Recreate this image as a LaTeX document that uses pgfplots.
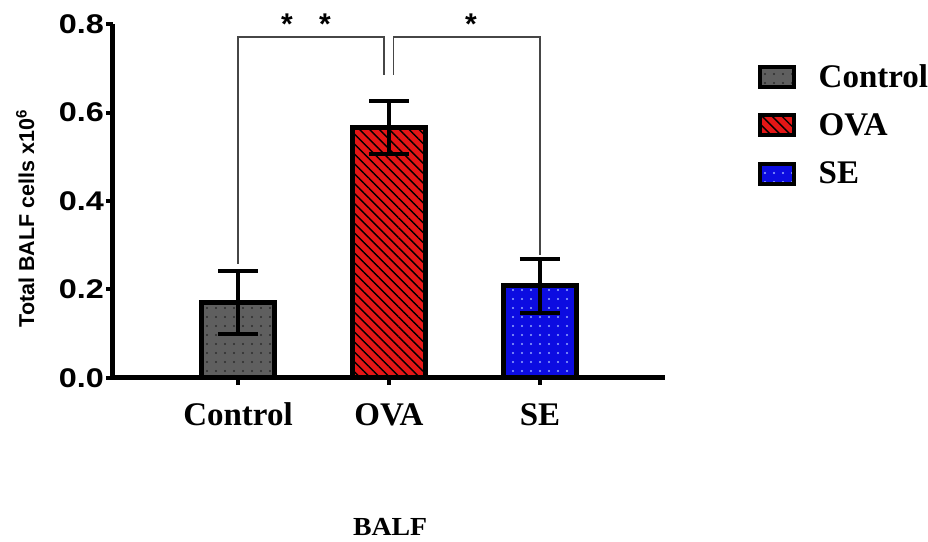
\documentclass[border=0pt]{standalone}
\usepackage{pgfplots}
\pgfplotsset{compat=1.18}
\usepackage{fontspec}
\setmainfont{Liberation Serif}
\newfontfamily\arial{Liberation Sans}
\newfontfamily\arialw[FakeStretch=1.2]{Liberation Sans}
\newfontfamily\timesb[FakeStretch=1.07]{Liberation Serif}
\usetikzlibrary{patterns.meta}

\definecolor{ctrlgray}{RGB}{95,95,95}
\definecolor{ctrldots}{RGB}{45,45,45}
\definecolor{ovared}{RGB}{228,22,22}
\definecolor{seblue}{RGB}{12,12,225}
\definecolor{sedots}{RGB}{150,170,255}
\definecolor{brk}{RGB}{70,70,70}

\begin{document}
\begin{tikzpicture}
\begin{axis}[
  scale only axis,
  width=552pt, height=354pt,
  xmin=-0.828, xmax=2.828,
  ymin=0, ymax=0.8,
  enlargelimits=false,
  clip=false,
  axis x line=bottom, axis y line=left,
  axis line style={line width=5pt, -},
  tick align=outside,
  major tick length=7pt,
  tick style={line width=4pt, black},
  ybar, bar width=73pt, bar shift=0pt,
  xtick={0,1,2},
  xticklabels={Control,OVA,SE},
  xticklabel style={font=\bfseries\fontsize{33}{33}\selectfont, anchor=base, yshift=-41pt},
  ytick={0,0.2,0.4,0.6,0.8},
  yticklabel style={font=\arialw\bfseries\fontsize{27}{27}\selectfont, inner sep=2pt,
    /pgf/number format/.cd, fixed, fixed zerofill, precision=1, assume math mode=true},
  ylabel={Total BALF cells x10\textsuperscript{6}},
  ylabel style={font=\arial\bfseries\fontsize{21.5}{21.5}\selectfont,
    at={(axis description cs:-0.159,0.45)}, anchor=center},
  xlabel={BALF},
  xlabel style={font=\timesb\bfseries\fontsize{26}{26}\selectfont,
    at={(axis description cs:0.502,-0.42)}, anchor=center},
  legend image code/.code={
    \draw[#1, line width=4pt] (0pt,-10pt) rectangle (34pt,10pt);
    \path (54pt,0pt);
  },
  legend style={
    at={(axis description cs:1.163,0.898)}, anchor=north west,
    draw=none, fill=none,
    font=\bfseries\fontsize{33}{33}\selectfont,
    row sep=21pt,
    nodes={inner sep=2pt},
  },
  legend cell align=left,
  error bars/y dir=both,
  error bars/y explicit,
  error bars/error bar style={line width=4pt, black},
  error bars/error mark options={rotate=90, mark size=20pt, line width=4pt, black},
]
\addplot[draw=black, line width=5pt, fill=ctrlgray,
  postaction={pattern={Dots[distance=9pt, radius=1.1pt]}, pattern color=ctrldots}]
  coordinates {(0,0.170) +- (0,0.071)};
\addplot[draw=black, line width=5pt, fill=ovared,
  postaction={pattern={Lines[angle=-45, distance=7pt, line width=1.4pt]}, pattern color=black}]
  coordinates {(1,0.567) +- (0,0.060)};
\addplot[draw=black, line width=5pt, fill=seblue,
  postaction={pattern={Dots[distance=9pt, radius=1.1pt]}, pattern color=sedots}]
  coordinates {(2,0.208) +- (0,0.060)};
\legend{Control,OVA,SE}

% significance brackets
\draw[brk, line width=1.6pt] (axis cs:0,0.258) -- (axis cs:0,0.771) -- (axis cs:0.967,0.771) -- (axis cs:0.967,0.685);
\draw[brk, line width=1.6pt] (axis cs:1.03,0.685) -- (axis cs:1.03,0.771) -- (axis cs:2,0.771) -- (axis cs:2,0.278);
\node[font=\arial\bfseries\fontsize{30}{30}\selectfont, anchor=base] at (axis cs:0.325,0.776) {*};
\node[font=\arial\bfseries\fontsize{30}{30}\selectfont, anchor=base] at (axis cs:0.576,0.776) {*};
\node[font=\arial\bfseries\fontsize{30}{30}\selectfont, anchor=base] at (axis cs:1.543,0.776) {*};
\end{axis}
\pgfresetboundingbox
\path[use as bounding box] ([xshift=-113pt, yshift=-164pt]current axis.south west) rectangle ([xshift=263pt, yshift=24pt]current axis.north east);
\end{tikzpicture}
\end{document}
